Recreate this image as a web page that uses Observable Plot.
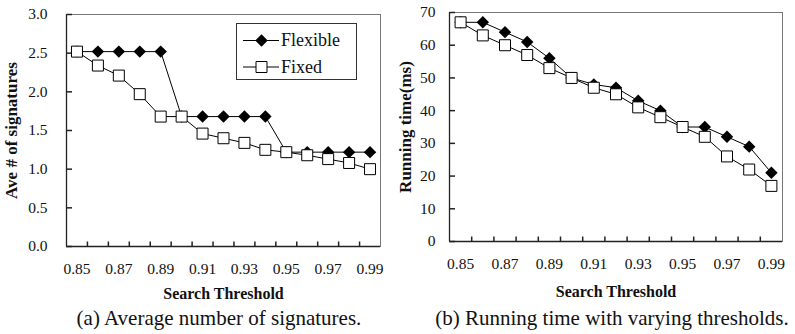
<!DOCTYPE html>
<html><head><meta charset="utf-8">
<script src="https://cdn.jsdelivr.net/npm/d3@7"></script>
<script src="https://cdn.jsdelivr.net/npm/@observablehq/plot@0.6"></script>
<style>
body{margin:0;background:#fff;}
#wrap{position:relative;width:795px;height:334px;overflow:hidden;font-family:'Liberation Serif',serif;color:#111;background:#fff;}
#wrap svg, #wrap svg text{font-family:'Liberation Serif',serif;}
.panel{position:absolute;top:0;}
.caption{position:absolute;top:306px;width:400px;text-align:center;font-family:'Liberation Serif',serif;font-size:21px;line-height:24px;white-space:nowrap;}
.legend{position:absolute;border:1px solid #333;background:#fff;font-size:18px;}
</style></head><body><div id="wrap"></div>
<script>
// ---- data ----
const thresholds = [0.85,0.86,0.87,0.88,0.89,0.90,0.91,0.92,0.93,0.94,0.95,0.96,0.97,0.98,0.99];
const xTickLabels = [0.85,0.87,0.89,0.91,0.93,0.95,0.97,0.99];
const seriesNames = ["Flexible","Fixed"];
const sigFlexible = [2.52,2.52,2.52,2.52,2.52,1.68,1.68,1.68,1.68,1.68,1.22,1.22,1.22,1.22,1.22];
const sigFixed    = [2.52,2.34,2.21,1.97,1.68,1.68,1.46,1.40,1.34,1.25,1.22,1.18,1.13,1.08,1.00];
const timeFlexible = [67,67,64,61,56,50,48,47,43,40,35,35,32,29,21];
const timeFixed    = [67,63,60,57,53,50,47,45,41,38,35,32,26,22,17];
const sigTicks  = [0,0.5,1.0,1.5,2.0,2.5,3.0];
const timeTicks = [0,10,20,30,40,50,60,70];
const xTitle = "Search Threshold";
const yTitles = ["Ave # of signatures","Running time(ms)"];
const captions = ["(a) Average number of signatures.","(b) Running time with varying thresholds."];

// ---- helpers ----
const FONT = "'Liberation Serif', serif";
const step = thresholds[1] - thresholds[0];
const xDomain = [thresholds[0] - step/2, thresholds[thresholds.length-1] + step/2];
const boundaries = d3.pairs(thresholds, (a,b) => (a+b)/2);
const tickUp = {draw(ctx){ ctx.moveTo(0,0); ctx.lineTo(0,-5); }};
const tickRight = {draw(ctx){ ctx.moveTo(0,0); ctx.lineTo(5.5,0); }};
const rows = (vals) => thresholds.map((t,i) => ({t, v: vals[i]}));

function chart({flex, fixed, yTicks, yFmt, yTitle, width, height, mt, mb, ml, mr, padY, dxY, dyX}) {
  const yDomain = [yTicks[0], yTicks[yTicks.length-1]];
  return Plot.plot({
    width, height, marginTop: mt, marginBottom: mb, marginLeft: ml, marginRight: mr,
    style: {fontFamily: FONT, fontSize: "15.5px", color: "#111", background: "#fff"},
    x: {domain: xDomain, axis: null},
    y: {domain: yDomain, axis: null},
    marks: [
      Plot.frame({stroke: "#777"}),
      Plot.ruleY([yDomain[0]], {stroke: "#222", strokeWidth: 1.3}),
      Plot.ruleX([xDomain[0]], {stroke: "#222", strokeWidth: 1.3}),
      Plot.dot(boundaries, {x: d => d, frameAnchor: "bottom", symbol: tickUp, stroke: "#222", fill: "none"}),
      Plot.dot(yTicks, {y: d => d, frameAnchor: "left", symbol: tickRight, stroke: "#222", fill: "none"}),
      Plot.axisX(xTickLabels, {tickSize: 0, tickPadding: 16, tickFormat: d => d.toFixed(2), label: null, fontFamily: FONT, fontSize: 15.5}),
      Plot.axisY(yTicks, {tickSize: 0, tickPadding: padY, tickFormat: yFmt, label: null, fontFamily: FONT, fontSize: 15.5}),
      Plot.line(rows(flex), {x: "t", y: "v", stroke: "#000", strokeWidth: 1}),
      Plot.line(rows(fixed), {x: "t", y: "v", stroke: "#000", strokeWidth: 1}),
      Plot.dot(rows(flex), {x: "t", y: "v", symbol: "diamond2", r: 5.6, fill: "#000", stroke: "none"}),
      Plot.dot(rows(fixed), {x: "t", y: "v", symbol: "square", r: 6.2, fill: "#fff", stroke: "#000", strokeWidth: 1}),
      Plot.text([xTitle], {frameAnchor: "bottom", textAnchor: "middle", lineAnchor: "bottom", dy: dyX, fontWeight: "bold", fontSize: 16, fontFamily: FONT}),
      Plot.text([yTitle], {frameAnchor: "left", textAnchor: "middle", lineAnchor: "middle", rotate: -90, dx: dxY, fontWeight: "bold", fontSize: 17, fontFamily: FONT})
    ]
  });
}

const wrap = document.getElementById("wrap");
function addPanel(left, node, caption, capCenter) {
  const p = document.createElement("div");
  p.className = "panel"; p.style.left = left + "px";
  p.appendChild(node);
  wrap.appendChild(p);
  const c = document.createElement("div");
  c.className = "caption"; c.style.left = (capCenter - 200) + "px";
  c.textContent = caption;
  wrap.appendChild(c);
}

addPanel(0, chart({flex: sigFlexible, fixed: sigFixed, yTicks: sigTicks, yFmt: d => d.toFixed(1),
  yTitle: yTitles[0], width: 397, height: 305, mt: 14, mb: 59, ml: 66, mr: 17, padY: 19, dxY: -55, dyX: 52}),
  captions[0], 219);
addPanel(397, chart({flex: timeFlexible, fixed: timeFixed, yTicks: timeTicks, yFmt: d => String(d),
  yTitle: yTitles[1], width: 398, height: 305, mt: 12, mb: 64, ml: 52, mr: 13, padY: 14, dxY: -44, dyX: 55}),
  captions[1], 612);

// ---- legend ----
const lg = document.createElement("div");
lg.className = "legend";
lg.style.left = "236px"; lg.style.top = "23px"; lg.style.width = "119px"; lg.style.height = "55px";
const ns = "http://www.w3.org/2000/svg";
const lsvg = document.createElementNS(ns, "svg");
lsvg.setAttribute("width", 119); lsvg.setAttribute("height", 55);
lsvg.style.position = "absolute"; lsvg.style.left = "0"; lsvg.style.top = "0";
seriesNames.forEach((name, i) => {
  const cy = 16.5 + i * 26.5;
  const ln = document.createElementNS(ns, "line");
  ln.setAttribute("x1", 6); ln.setAttribute("x2", 42); ln.setAttribute("y1", cy); ln.setAttribute("y2", cy);
  ln.setAttribute("stroke", "#000"); ln.setAttribute("stroke-width", 1);
  lsvg.appendChild(ln);
  const sym = document.createElementNS(ns, "path");
  const sz = i === 0 ? Math.PI * 5.6 * 5.6 : Math.PI * 6.2 * 6.2;
  sym.setAttribute("d", d3.symbol(i === 0 ? d3.symbolDiamond2 : d3.symbolSquare, sz)());
  sym.setAttribute("transform", `translate(24.5,${cy})`);
  sym.setAttribute("fill", i === 0 ? "#000" : "#fff");
  sym.setAttribute("stroke", i === 0 ? "none" : "#000");
  lsvg.appendChild(sym);
  const tx = document.createElementNS(ns, "text");
  tx.setAttribute("x", 44); tx.setAttribute("y", cy); tx.setAttribute("dy", "0.32em");
  tx.setAttribute("font-size", 18); tx.setAttribute("font-family", FONT);
  tx.setAttribute("fill", "#111");
  tx.textContent = name;
  lsvg.appendChild(tx);
});
lg.appendChild(lsvg);
wrap.appendChild(lg);
</script></body></html>
